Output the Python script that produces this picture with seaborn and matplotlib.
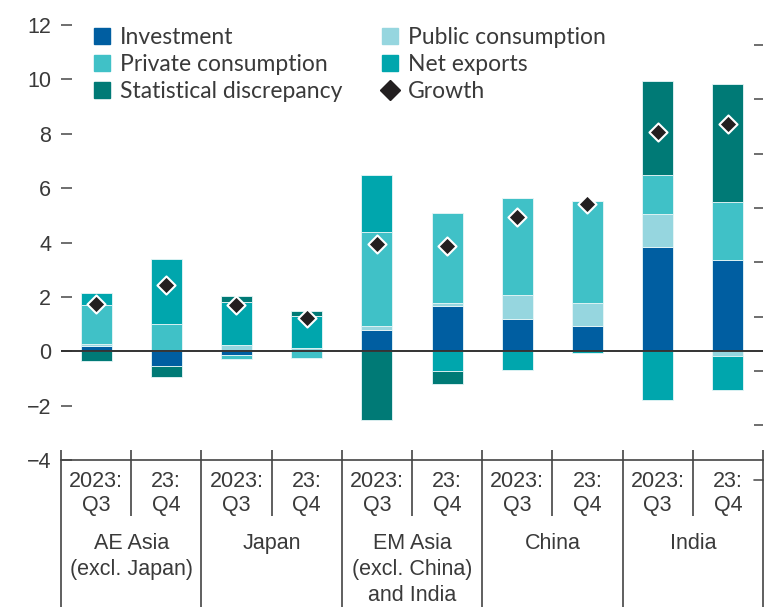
import numpy as np
import pandas as pd
import seaborn as sns
import matplotlib as mpl
mpl.use('Agg')
import matplotlib.pyplot as plt
from matplotlib.patches import Patch
from matplotlib.lines import Line2D

# data (percentage points)
periods = ['2023:\nQ3', '23:\nQ4'] * 5
regions = ['AE Asia\n(excl. Japan)', 'Japan', 'EM Asia\n(excl. China)\nand India', 'China', 'India']
investment = [0.20, -0.55, -0.15, 0.05, 0.77, 1.65, 1.20, 0.92, 3.84, 3.36]
public_cons = [0.07, 0.0, 0.22, 0.07, 0.15, 0.13, 0.88, 0.87, 1.22, -0.17]
private_cons = [1.44, 1.02, -0.15, -0.24, 3.47, 3.32, 3.55, 3.75, 1.41, 2.14]
net_exports = [0.42, 2.38, 1.59, 1.17, 2.08, -0.73, -0.68, -0.08, -1.79, -1.25]
stat_disc = [-0.37, -0.38, 0.22, 0.18, -2.53, -0.49, 0.0, 0.0, 3.46, 4.34]
growth = [1.74, 2.43, 1.69, 1.22, 3.94, 3.87, 4.94, 5.43, 8.08, 8.37]
y_ticks = [-4, -2, 0, 2, 4, 6, 8, 10, 12]
right_ticks = [-2.73, -0.73, 1.27, 3.27, 5.27, 7.27, 9.27, 11.27]

components = [
    ('Investment', investment, '#005EA1'),
    ('Public consumption', public_cons, '#96D6DF'),
    ('Private consumption', private_cons, '#40C1C7'),
    ('Net exports', net_exports, '#00A6AD'),
    ('Statistical discrepancy', stat_disc, '#007A76'),
]

sns.set_theme(style='white')
plt.rcParams['font.family'] = ['Liberation Sans', 'DejaVu Sans']
txt = '#3a3a3a'

fig = plt.figure(figsize=(7.82, 6.10), dpi=100)
ax = fig.add_axes([0.078, 0.2459, 0.8977, 0.7131])

pos = np.arange(len(periods))
pos_bottom = np.zeros(len(pos))
neg_bottom = np.zeros(len(pos))
for name, vals, col in components:
    v = np.array(vals)
    bottom = np.where(v >= 0, pos_bottom, neg_bottom)
    df = pd.DataFrame({'pos': pos, 'val': v})
    sns.barplot(data=df, x='pos', y='val', bottom=bottom, color=col, saturation=1,
                width=0.44, errorbar=None, edgecolor='#e8f6f7', linewidth=0.6,
                ax=ax, zorder=2)
    pos_bottom += np.where(v >= 0, v, 0)
    neg_bottom += np.where(v < 0, v, 0)

ax.axhline(0, color='#333333', lw=1.4, zorder=3)
gdf = pd.DataFrame({'pos': pos, 'growth': growth})
sns.scatterplot(data=gdf, x='pos', y='growth', marker='D', s=85, color='#231F20',
                edgecolor='white', linewidth=1.5, ax=ax, zorder=5, legend=False)

ax.set_xlim(-0.5, len(pos) - 0.5)
ax.set_ylim(-4, 12)
ax.set_yticks(y_ticks)
ax.set_xticks(pos)
ax.set_xticklabels(periods, fontsize=15.5, color=txt, linespacing=1.2)
ax.tick_params(axis='x', length=0, pad=8)
ax.tick_params(axis='y', direction='in', length=8, width=1.2, color='#555555',
               labelsize=15.5, labelcolor=txt, pad=7, left=True)
ax.set_xlabel('')
ax.set_ylabel('')
for s in ['left', 'right', 'top']:
    ax.spines[s].set_visible(False)
ax.spines['bottom'].set_color('#444444')
ax.spines['bottom'].set_linewidth(1.2)

# right-hand tick marks (no labels)
ax2 = ax.twinx()
ax2.set_ylim(ax.get_ylim())
ax2.set_yticks(right_ticks)
ax2.tick_params(axis='y', direction='in', length=6.5, width=1.2, color='#555555',
                labelright=False, right=True)
for s in ax2.spines.values():
    s.set_visible(False)
ax.plot([0.987, 1.0], [right_ticks[0] - 2, right_ticks[0] - 2], color='#555555', lw=1.2,
        transform=ax.get_yaxis_transform(), clip_on=False)

# category separators below the axis
xt = ax.get_xaxis_transform()
group_edges = np.arange(-0.5, len(pos), 2)
quarter_edges = np.arange(0.5, len(pos), 2)
ax.vlines(group_edges, 0.023, -0.338, color='#444444', lw=1.2, transform=xt, clip_on=False)
ax.vlines(quarter_edges, 0.023, -0.129, color='#444444', lw=1.2, transform=xt, clip_on=False)
for i, reg in enumerate(regions):
    ax.text(2 * i + 0.5, -0.168, reg, transform=xt, ha='center', va='top',
            fontsize=15.5, color=txt, linespacing=1.3)

handles = [Patch(color=c) for _, _, c in components]
labels = [n for n, _, _ in components]
handles.append(Line2D([], [], marker='D', color='#231F20', ls='', markersize=10.5))
labels.append('Growth')
order = [0, 2, 4, 1, 3, 5]
leg = ax.legend([handles[i] for i in order], [labels[i] for i in order], ncol=2,
                loc='upper left', bbox_to_anchor=(0.034, 1.017), frameon=False,
                prop={'family': 'Lato', 'size': 16.5}, handlelength=0.68, handleheight=0.68,
                handletextpad=0.45, labelspacing=0.27, columnspacing=1.75, borderaxespad=0)
for t in leg.get_texts():
    t.set_color(txt)

plt.savefig('out.png', dpi=100)
